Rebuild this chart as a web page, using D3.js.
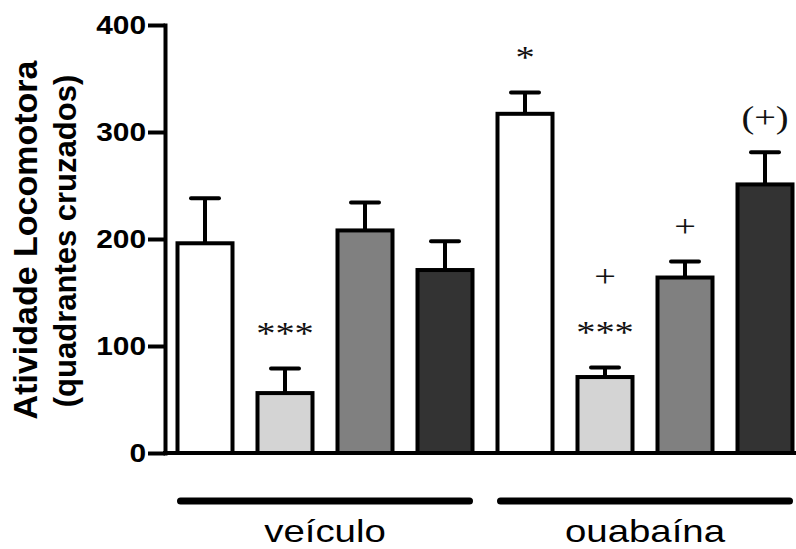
<!DOCTYPE html>
<html><head><meta charset="utf-8">
<script src="https://cdn.jsdelivr.net/npm/d3@7"></script>
<style>body{margin:0;background:#fff}</style>
</head><body><svg id="c" width="796" height="549"></svg>
<script>
const groups = ["veículo", "ouabaína"];
const treatments = ["T1", "T2", "T3", "T4"];
const meansVeiculo = [196, 56, 208, 171];
const semVeiculo = [42, 23, 26, 27];
const meansOuabaina = [317, 71, 164, 251];
const semOuabaina = [20, 9, 15, 30];
const marksVeiculo = [[], ["***"], [], []];
const marksOuabaina = [["*"], ["***", "+"], ["+"], ["(+)"]];
const yTicks = [0, 100, 200, 300, 400];
const yLabel1 = "Atividade Locomotora";
const yLabel2 = "(quadrantes cruzados)";

const fills = ["#ffffff", "#d4d4d4", "#808080", "#333333"];
const means = [meansVeiculo, meansOuabaina];
const sems = [semVeiculo, semOuabaina];
const marks = [marksVeiculo, marksOuabaina];

const rows = [];
groups.forEach((g, gi) => treatments.forEach((t, ti) => rows.push({
  key: g + "|" + t, group: g, gi, ti, mean: means[gi][ti], sem: sems[gi][ti], marks: marks[gi][ti]
})));

const svg = d3.select("#c");
const sans = "'Liberation Sans', Arial, sans-serif";
const serif = "'Liberation Serif', 'Times New Roman', serif";
const x = d3.scaleBand().domain(rows.map(d => d.key)).range([165, 805]).paddingInner(0.3125).paddingOuter(0.15625);
const y = d3.scaleLinear().domain([0, 400]).range([453, 25]);
const bw = x.bandwidth();

// bars
svg.append("g").selectAll("rect").data(rows).join("rect")
  .attr("x", d => x(d.key)).attr("y", d => y(d.mean))
  .attr("width", bw).attr("height", d => y(0) - y(d.mean))
  .attr("fill", d => fills[d.ti]).attr("stroke", "#000").attr("stroke-width", 4);

// error bars
const eb = svg.append("g").attr("stroke", "#000").attr("stroke-width", 4);
eb.selectAll("line.v").data(rows).join("line").attr("class", "v")
  .attr("x1", d => x(d.key) + bw / 2).attr("x2", d => x(d.key) + bw / 2)
  .attr("y1", d => y(d.mean)).attr("y2", d => y(d.mean + d.sem));
eb.selectAll("line.h").data(rows).join("line").attr("class", "h")
  .attr("stroke-linecap", "round")
  .attr("x1", d => x(d.key) + bw / 2 - 14).attr("x2", d => x(d.key) + bw / 2 + 14)
  .attr("y1", d => y(d.mean + d.sem)).attr("y2", d => y(d.mean + d.sem));

// annotations
const ann = svg.append("g").attr("font-family", serif).attr("font-size", 32).attr("fill", "#111");
rows.forEach(d => {
  d.marks.forEach((m, i) => {
    const cx = x(d.key) + bw / 2;
    const by = y(d.mean + d.sem) - 24 - i * 56;
    ann.append("text").attr("text-anchor", "middle")
      .attr("transform", `translate(${cx},${by}) scale(1.2,1)`).text(m);
  });
});

// y axis
const ya = svg.append("g").attr("transform", "translate(165,0)")
  .call(d3.axisLeft(y).tickValues(yTicks).tickSize(17).tickSizeOuter(0).tickPadding(0));
ya.select(".domain").attr("stroke-width", 4).attr("stroke-linecap", "square");
ya.selectAll(".tick line").attr("stroke-width", 4);
ya.selectAll(".tick text").attr("font-family", sans).attr("font-weight", "bold").attr("font-size", 26)
  .attr("fill", "#000").attr("x", -19 / 1.15).attr("transform", "scale(1.15,1)");

// x axis baseline
svg.append("line").attr("x1", 163).attr("x2", 796).attr("y1", y(0)).attr("y2", y(0))
  .attr("stroke", "#000").attr("stroke-width", 4);

// group lines and labels
const gl = svg.append("g");
groups.forEach(g => {
  const ks = rows.filter(d => d.group === g).map(d => x(d.key));
  const x0 = d3.min(ks), x1 = d3.max(ks) + bw;
  gl.append("line").attr("x1", x0 + 3).attr("x2", x1 - 3).attr("y1", 501).attr("y2", 501)
    .attr("stroke", "#000").attr("stroke-width", 7).attr("stroke-linecap", "round");
  gl.append("text").attr("text-anchor", "middle").attr("font-family", sans).attr("font-size", 32)
    .attr("fill", "#000").attr("transform", `translate(${(x0 + x1) / 2},542) scale(1.2,1)`).text(g);
});

// y label
svg.append("text").attr("text-anchor", "middle").attr("font-family", sans).attr("font-weight", "bold")
  .attr("font-size", 34).attr("transform", "translate(37,240) rotate(-90)").text(yLabel1);
svg.append("text").attr("text-anchor", "middle").attr("font-family", sans).attr("font-weight", "bold")
  .attr("font-size", 31).attr("transform", "translate(76,241) rotate(-90)").text(yLabel2);
</script></body></html>
